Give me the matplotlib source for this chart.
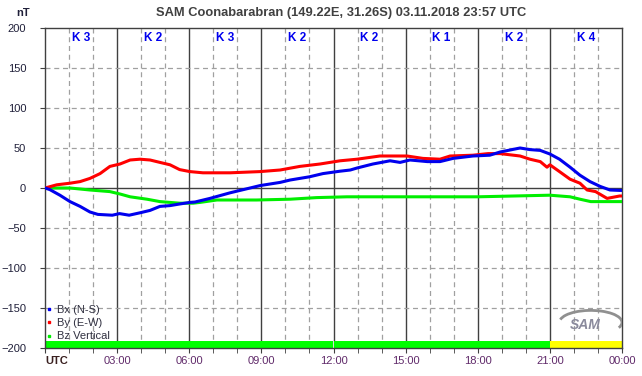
import matplotlib.pyplot as plt
from matplotlib.patches import Arc
import numpy as np

plt.rcParams['font.family'] = ['Liberation Sans', 'DejaVu Sans']

# Bx (N-S), nT
bx_t = [0, 0.2, 0.62, 1.04, 1.46, 1.87, 2.2, 2.8, 3.1, 3.5, 3.95, 4.37, 4.78, 5.2, 5.6, 6.03, 6.24,
        6.86, 7.7, 8.53, 8.94, 9.78, 10.2, 11.0, 11.56, 12.27, 12.7, 12.98, 13.64, 14.35, 14.77,
        15.18, 15.9, 16.43, 16.97, 17.8, 18.5, 18.93, 19.76, 20.17, 20.6, 21.0, 21.4, 21.84,
        22.25, 22.67, 23.09, 23.5, 23.9, 24]
bx = [0, -2, -9, -17, -23, -30, -33, -34, -32, -34, -31, -28, -23, -22, -20, -18, -17.5,
      -13, -6, 0, 3, 7, 10, 14, 18, 21, 22.5, 25, 30, 34, 32,
      35, 33, 33, 37, 40, 41, 45, 50, 48, 47, 42.5, 36, 26,
      16, 8, 2, -2.5, -3, -3]

# By (E-W)
by_t = [0, 0.49, 1.04, 1.46, 1.87, 2.29, 2.7, 3.12, 3.54, 3.95, 4.37, 4.78, 5.2, 5.6, 6.03,
        6.57, 7.7, 8.94, 9.78, 10.6, 11.44, 12.27, 12.98, 13.93, 15.06, 15.72, 16.43, 16.85,
        17.8, 18.43, 18.93, 19.76, 20.17, 20.6, 20.88, 21.0, 21.4, 21.84, 22.25, 22.55, 22.9,
        23.38, 23.9, 24]
by = [0, 4, 6, 8, 12, 18, 27, 30, 35, 36, 35, 32, 29, 23, 20.5,
      19, 19, 20.5, 22.5, 27, 30, 34, 36, 40, 40, 37, 36, 40,
      41, 43, 43, 40, 36, 33, 26, 29, 20.5, 11, 6, -2.5, -4.5,
      -13, -10, -10]

# Bz vertical
bz_t = [0, 1.04, 1.87, 2.7, 3.12, 3.54, 4.24, 4.78, 5.6, 6.16, 6.45, 7.15, 8.8, 10.2, 11.3,
        12.56, 18.0, 21.0, 21.84, 22.25, 22.7, 24]
bz = [0, 0, -2.5, -4.5, -7.5, -11, -14, -17, -19, -19, -18, -15, -15, -14, -12,
      -11, -11, -9, -11, -14, -17, -17]

# K index per 3-hour interval
k_index = [3, 2, 3, 2, 2, 1, 2, 4]
x_labels = ['UTC', '03:00', '06:00', '09:00', '12:00', '15:00', '18:00', '21:00', '00:00']

fig = plt.figure(figsize=(6.42, 3.76), dpi=100)
ax = fig.add_axes([45/642, 28/376, 577/642, 320/376])

ax.set_xlim(0, 24)
ax.set_ylim(-200, 200)

# grid
for h in range(1, 24):
    if h % 3 == 0:
        ax.axvline(h, color='#404040', lw=1.0, zorder=1)
    else:
        ax.axvline(h, color='#a0a0a0', lw=0.9, ls=(0, (4, 3)), zorder=1)
for v in range(-150, 200, 50):
    if v == 0:
        ax.axhline(v, color='#404040', lw=1.0, zorder=1)
    else:
        ax.axhline(v, color='#a0a0a0', lw=0.9, ls=(0, (4, 3)), zorder=1)

# K index band
band_colors = ['#ffff00' if k >= 4 else '#00ff00' for k in k_index]
ax.bar(np.arange(len(k_index)) * 3, 9, width=3, bottom=-200, align='edge',
       color=band_colors, zorder=2)
for i, k in enumerate(k_index):
    ax.text(i * 3 + 1.5, 187, 'K %d' % k, color='#0000ee', fontsize=8.5, fontweight='bold',
            ha='center', va='center', zorder=3)

ax.plot(bz_t, bz, color='#00ee00', lw=2.2, zorder=4, label='Bz Vertical')
ax.plot(by_t, by, color='#ff0000', lw=2.2, zorder=5, label='By (E-W)')
ax.plot(bx_t, bx, color='#0000ee', lw=2.2, zorder=6, label='Bx (N-S)')

# legend: markers only
handles = [plt.Line2D([], [], color=c, marker='s', ms=2, ls='none') for c in ['#0000ee', '#ff0000', '#00ee00']]
ax.legend(handles, ['Bx (N-S)', 'By (E-W)', 'Bz Vertical'], loc='lower left',
          bbox_to_anchor=(0.0, 0.017), frameon=False, fontsize=8, handlelength=0.6,
          handletextpad=0.35, labelspacing=0.3, borderpad=0.1, borderaxespad=0,
          labelcolor='#303040')

# ticks (lengths / pads in points: 1 pt = 1.39 px at 100 dpi)
ax.set_xticks(range(0, 25, 3))
ax.set_xticks(range(0, 25, 1), minor=True)
ax.set_xticklabels(x_labels)
ax.set_yticks(range(-200, 201, 50))
ax.tick_params(axis='x', which='both', direction='out', length=3.6, color='#404040',
               labelsize=8, labelcolor='#602a6a', pad=2)
ax.tick_params(axis='y', direction='out', length=3.6, color='#404040',
               labelsize=8, labelcolor='#20203a', pad=10)
ax.get_xticklabels()[0].set_fontweight('bold')
ax.get_xticklabels()[0].set_color('#3a2020')
ax.get_xticklabels()[0].set_ha('left')
for sp in ax.spines.values():
    sp.set_color('#404040')
    sp.set_linewidth(1.0)

fig.text(16/642, 1 - 13/376, 'nT', fontsize=8, fontweight='bold', color='#20203a',
         ha='left', va='center')
fig.text(341/642, 1 - 13/376, 'SAM Coonabarabran (149.22E, 31.26S) 03.11.2018 23:57 UTC',
         fontsize=9.3, fontweight='bold', color='#404040', ha='center', va='center')

# SAM logo
ax.text(22.45, -171, 'SAM', fontsize=10, fontstyle='italic', fontweight='bold',
        color='#8a8a9c', ha='center', va='center', zorder=7)
ax.add_patch(Arc((22.7, -168), 2.6, 30, theta1=-80, theta2=110, color='#909090', lw=2.0, zorder=7))

fig.savefig('out.png', dpi=100)
